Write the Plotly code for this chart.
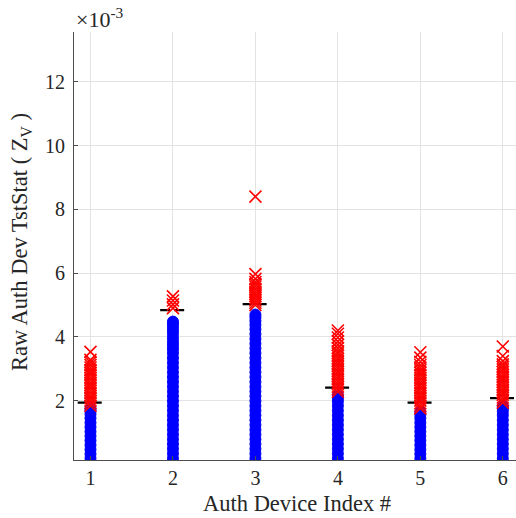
import plotly.graph_objects as go

# Values in units of 1e-3
devices = [1, 2, 3, 4, 5, 6]
thresholds = [1.94, 4.84, 5.03, 2.41, 1.94, 2.08]

blue_1 = [0.19, 0.33, 0.47, 0.61, 0.75, 0.89, 1.03, 1.17, 1.31, 1.45, 1.58, 1.68, 1.76]
blue_2 = [0.19, 0.34, 0.49, 0.64, 0.79, 0.94, 1.09, 1.24, 1.39, 1.54, 1.69, 1.84, 1.99,
          2.14, 2.29, 2.44, 2.59, 2.74, 2.89, 3.04, 3.19, 3.34, 3.49, 3.62, 3.74, 3.85,
          3.97, 4.10, 4.21, 4.32, 4.41, 4.48]
blue_3 = [0.19, 0.34, 0.49, 0.64, 0.79, 0.94, 1.09, 1.24, 1.39, 1.54, 1.69, 1.84, 1.99,
          2.14, 2.29, 2.44, 2.59, 2.74, 2.89, 3.04, 3.19, 3.34, 3.49, 3.64, 3.79, 3.94,
          4.09, 4.24, 4.38, 4.50, 4.61, 4.70]
blue_4 = [0.19, 0.34, 0.49, 0.64, 0.79, 0.94, 1.09, 1.24, 1.39, 1.54, 1.69, 1.84, 1.98,
          2.08, 2.16]
blue_5 = [0.19, 0.33, 0.47, 0.61, 0.75, 0.89, 1.03, 1.17, 1.31, 1.45, 1.56, 1.65]
blue_6 = [0.19, 0.34, 0.49, 0.64, 0.79, 0.94, 1.09, 1.24, 1.39, 1.54, 1.66, 1.76, 1.83]

red_1 = [1.84, 1.92, 2.00, 2.08, 2.16, 2.24, 2.32, 2.40, 2.48, 2.56, 2.64, 2.72, 2.80,
         2.88, 2.96, 3.04, 3.12, 3.20, 3.28, 3.53]
red_2 = [4.90, 5.02, 5.14, 5.27]
red_3 = [5.00, 5.07, 5.14, 5.21, 5.28, 5.35, 5.42, 5.50, 5.58, 5.65, 5.72, 5.82, 5.97, 8.40]
red_4 = [2.28, 2.36, 2.44, 2.52, 2.60, 2.68, 2.76, 2.84, 2.92, 3.00, 3.08, 3.16, 3.24,
         3.32, 3.40, 3.48, 3.55, 3.65, 3.75, 3.86, 3.98, 4.10, 4.20]
red_5 = [1.76, 1.84, 1.92, 2.00, 2.08, 2.16, 2.24, 2.32, 2.40, 2.48, 2.56, 2.64, 2.72,
         2.80, 2.88, 2.96, 3.04, 3.12, 3.22, 3.35, 3.52]
red_6 = [1.94, 2.02, 2.10, 2.18, 2.26, 2.34, 2.42, 2.50, 2.58, 2.66, 2.74, 2.82, 2.90,
         2.98, 3.06, 3.14, 3.24, 3.40, 3.70]

blue_series = [blue_1, blue_2, blue_3, blue_4, blue_5, blue_6]
red_series = [red_1, red_2, red_3, red_4, red_5, red_6]

x_ticks = [1, 2, 3, 4, 5, 6]
y_ticks = [2, 4, 6, 8, 10, 12]
thr_half_width = 0.155

TXT = "#262626"
FONT = "Liberation Serif"

fig = go.Figure()

# threshold dashes
for d, t in zip(devices, thresholds):
    fig.add_trace(go.Scatter(
        x=[d - thr_half_width, d + thr_half_width], y=[t, t], mode="lines",
        line=dict(color="black", width=2.2, dash="10px,4px"),
        showlegend=False, hoverinfo="skip"))

for d, vals in zip(devices, blue_series):
    fig.add_trace(go.Scatter(
        x=[d] * len(vals), y=vals, mode="markers",
        marker=dict(symbol="circle", size=11, color="#0000ff",
                    line=dict(color="#0000ff", width=1)),
        showlegend=False))

for d, vals in zip(devices, red_series):
    fig.add_trace(go.Scatter(
        x=[d] * len(vals), y=vals, mode="markers",
        marker=dict(symbol="x-thin-open", size=12, color="#ff0000",
                    line=dict(color="#ff0000", width=1.6)),
        showlegend=False))

fig.update_layout(
    width=516, height=518,
    margin=dict(l=74, r=0, t=32, b=58),
    paper_bgcolor="white", plot_bgcolor="white",
    font=dict(family=FONT, color=TXT, size=20),
    xaxis=dict(range=[0.8, 6.16], tickvals=x_ticks, ticks="inside", ticklen=4,
               tickcolor="#4d4d4d", showline=True, linecolor="#4d4d4d", linewidth=1,
               showgrid=True, gridcolor="#e3e3e3", gridwidth=1, zeroline=False,
               tickfont=dict(family=FONT, size=20, color=TXT)),
    yaxis=dict(range=[0.14, 13.56], tickvals=y_ticks, ticks="inside", ticklen=4,
               tickcolor="#4d4d4d", showline=True, linecolor="#4d4d4d", linewidth=1,
               showgrid=True, gridcolor="#e3e3e3", gridwidth=1, zeroline=False,
               ticklabelstandoff=4,
               tickfont=dict(family=FONT, size=20, color=TXT)),
    annotations=[
        dict(text="Auth Device Index #", xref="paper", yref="paper", x=0.504, y=-0.102,
             xanchor="center", yanchor="middle", showarrow=False,
             font=dict(family=FONT, size=22.5, color=TXT)),
        dict(text="Raw Auth Dev TstStat ( Z<sub>V</sub> )", xref="paper", yref="paper",
             x=-0.12, y=0.509, textangle=-90, xanchor="center", yanchor="middle",
             showarrow=False, font=dict(family=FONT, size=22.5, color=TXT)),
        dict(text="×10<sup>-3</sup>", xref="paper", yref="paper", x=0.0, y=0.995,
             xanchor="left", yanchor="bottom", showarrow=False,
             font=dict(family=FONT, size=22, color=TXT)),
    ],
)

fig.write_html("out.html")
